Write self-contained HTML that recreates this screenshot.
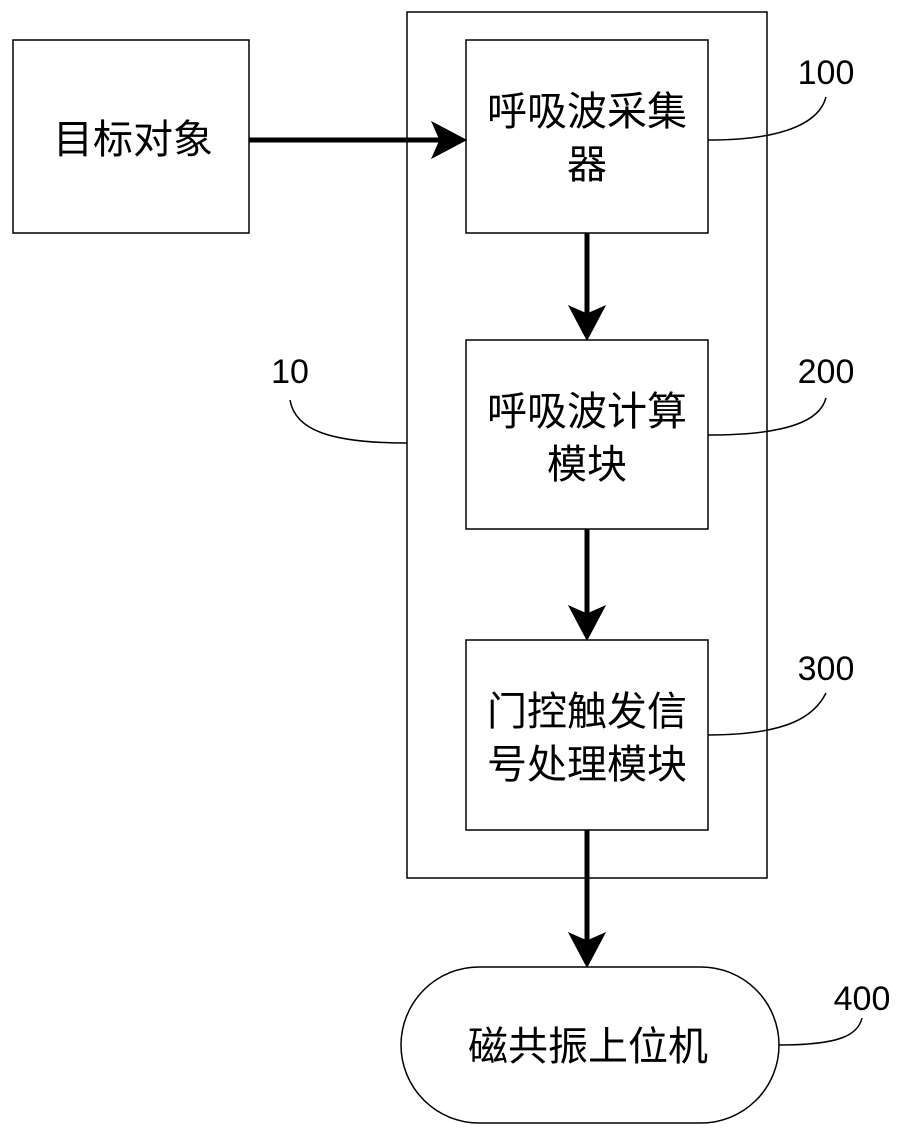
<!DOCTYPE html>
<html><head><meta charset="utf-8"><style>
html,body{margin:0;padding:0;background:#fff;}
svg{display:block;}
text{font-family:"Liberation Sans","Noto Sans CJK SC",sans-serif;fill:#000;}
</style></head><body>
<svg width="907" height="1139" viewBox="0 0 907 1139" xmlns="http://www.w3.org/2000/svg">
<g fill="none" stroke="#000" stroke-width="1.5">
<rect x="13" y="40" width="236" height="193"/>
<rect x="407" y="12" width="360" height="866"/>
<rect x="466" y="40" width="242" height="193"/>
<rect x="466" y="340" width="242" height="189"/>
<rect x="466" y="640" width="242" height="190"/>
<rect x="401" y="967" width="378" height="156" rx="78" ry="78"/>
<path d="M708,140 C790,140 820,120 826,97"/>
<path d="M708,435 C790,435 820,420 826,398"/>
<path d="M708,735 C790,735 815,715 826,693"/>
<path d="M407,443 C330,443 295,430 290,400"/>
<path d="M779,1045 C840,1045 858,1035 862,1018"/>
</g>
<g stroke="#000" stroke-width="5" fill="#000">
<line x1="249" y1="140" x2="440" y2="140"/>
<path d="M466,140 L432,122 L440,140 L432,158 Z" stroke-width="1"/>
<line x1="587" y1="233" x2="587" y2="314"/>
<path d="M587,340 L569,306 L587,314 L605,306 Z" stroke-width="1"/>
<line x1="587" y1="529" x2="587" y2="614"/>
<path d="M587,640 L569,606 L587,614 L605,606 Z" stroke-width="1"/>
<line x1="587" y1="830" x2="587" y2="941"/>
<path d="M587,967 L569,933 L587,941 L605,933 Z" stroke-width="1"/>
</g>
<g font-size="40" text-anchor="middle">
<text x="133" y="153">目标对象</text>
<text x="587" y="125">呼吸波采集</text>
<text x="587" y="178">器</text>
<text x="587" y="425">呼吸波计算</text>
<text x="587" y="478">模块</text>
<text x="587" y="725">门控触发信</text>
<text x="587" y="778">号处理模块</text>
<text x="588" y="1060">磁共振上位机</text>
</g>
<g font-size="34" text-anchor="middle">
<text x="826" y="84">100</text>
<text x="826" y="383">200</text>
<text x="826" y="680">300</text>
<text x="290" y="383">10</text>
<text x="862" y="1010">400</text>
</g>
</svg>
</body></html>
